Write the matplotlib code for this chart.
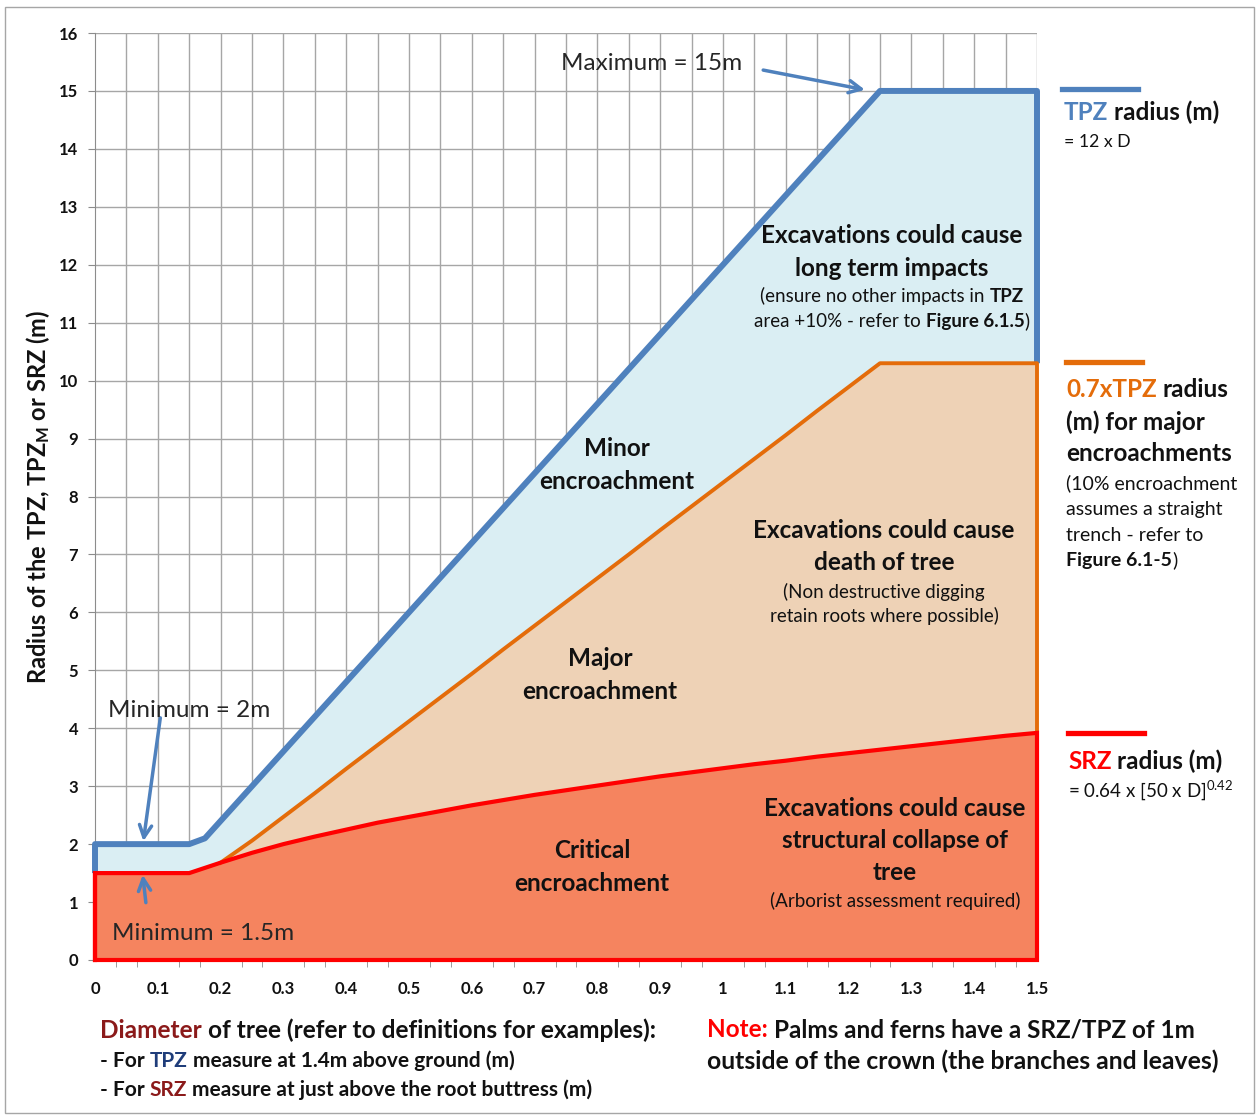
import numpy as np
import matplotlib
matplotlib.use("Agg")
import matplotlib.pyplot as plt
from matplotlib.transforms import Affine2D
from matplotlib.patches import Rectangle

# ---------------- data ----------------
diameter = [0.0, 0.05, 0.10, 0.15, 0.175, 0.20, 0.25, 0.30, 0.35, 0.40, 0.45,
            0.50, 0.55, 0.60, 0.65, 0.70, 0.75, 0.80, 0.85, 0.90, 0.95, 1.00,
            1.05, 1.10, 1.15, 1.20, 1.25, 1.30, 1.35, 1.40, 1.45, 1.50]
tpz = [2.0, 2.0, 2.0, 2.0, 2.1, 2.4, 3.0, 3.6, 4.2, 4.8, 5.4,
       6.0, 6.6, 7.2, 7.8, 8.4, 9.0, 9.6, 10.2, 10.8, 11.4, 12.0,
       12.6, 13.2, 13.8, 14.4, 15.0, 15.0, 15.0, 15.0, 15.0, 15.0]
tpz_major = [np.nan, np.nan, np.nan, np.nan, np.nan, 1.68, 2.06, 2.47, 2.88, 3.30, 3.71,
             4.12, 4.53, 4.94, 5.36, 5.77, 6.18, 6.59, 7.00, 7.42, 7.83, 8.24,
             8.65, 9.06, 9.48, 9.89, 10.3, 10.3, 10.3, 10.3, 10.3, 10.3]
srz = [1.5, 1.5, 1.5, 1.5, 1.59, 1.68, 1.85, 2.00, 2.13, 2.25, 2.37,
       2.47, 2.57, 2.67, 2.76, 2.85, 2.93, 3.01, 3.09, 3.17, 3.24, 3.31,
       3.38, 3.44, 3.51, 3.57, 3.63, 3.69, 3.75, 3.81, 3.87, 3.92]
x_tick_values = [0, 0.1, 0.2, 0.3, 0.4, 0.5, 0.6, 0.7, 0.8, 0.9, 1.0, 1.1, 1.2, 1.3, 1.4, 1.5]
x_tick_labels = ["0", "0.1", "0.2", "0.3", "0.4", "0.5", "0.6", "0.7", "0.8", "0.9",
                 "1", "1.1", "1.2", "1.3", "1.4", "1.5"]
y_tick_values = list(range(0, 17))

# ---------------- style ----------------
FONT = "Lato"
plt.rcParams["font.family"] = [FONT, "DejaVu Sans"]
plt.rcParams["mathtext.fontset"] = "custom"
plt.rcParams["mathtext.rm"] = FONT
plt.rcParams["mathtext.it"] = FONT + ":italic"
plt.rcParams["mathtext.bf"] = FONT + ":bold"

BLUE = "#4F81BD"
BLUE_FILL = "#DAEEF3"
ORANGE = "#E46C0A"
ORANGE_FILL = "#EED2B6"
RED = "#FF0000"
RED_FILL = "#F5845F"
DARKRED = "#8B1A1A"
NAVY = "#1F3D7A"
GRID = "#A6A6A6"
TXT = "#111111"

W, H = 1259, 1118
fig = plt.figure(figsize=(W / 100, H / 100), dpi=100)
pix = Affine2D().scale(1, -1).translate(0, H)  # pixel coords, origin top-left

ax = fig.add_axes([95 / W, 1 - 960 / H, (1037 - 95) / W, (960 - 33) / H])

D = np.array(diameter)
T = np.array(tpz)
M = np.array(tpz_major)
S = np.array(srz)
valid = ~np.isnan(M)

ax.set_xlim(0, 1.5)
ax.set_ylim(0, 16)
ax.set_axisbelow(True)

# grid
for gx in np.arange(0.05, 1.5001, 0.05):
    ax.axvline(gx, color=GRID, lw=1.0, zorder=0.5)
ax.yaxis.grid(True, color=GRID, lw=1.0)

# fills
ax.fill_between(D, S, T, color=BLUE_FILL, lw=0, zorder=2)
ax.fill_between(D[valid], S[valid], M[valid], color=ORANGE_FILL, lw=0, zorder=2.1)
ax.fill_between(D, 0, S, color=RED_FILL, lw=0, zorder=2.2)

# outlines
ax.plot(np.r_[D[0], D, D[-1]], np.r_[S[0], T, M[valid][-1]], color=BLUE, lw=4.3,
        clip_on=False, zorder=3, solid_joinstyle="round", solid_capstyle="butt")
ax.plot(np.r_[D[valid], D[-1]], np.r_[M[valid], S[-1]], color=ORANGE, lw=2.8,
        clip_on=False, zorder=3.1, solid_joinstyle="round")
ax.plot(np.r_[D[0], D, D[-1], D[0], D[0]], np.r_[0, S, 0, 0, S[0]], color=RED, lw=3.0,
        clip_on=False, zorder=3.2, solid_joinstyle="miter")

# axes
for s in ["top", "right"]:
    ax.spines[s].set_visible(False)
for s in ["left", "bottom"]:
    ax.spines[s].set_color("#8C8C8C")
ax.set_yticks(y_tick_values)
ax.set_yticklabels([str(v) for v in y_tick_values], fontsize=12, fontweight="bold", color=TXT)
ax.set_xticks(x_tick_values)
ax.set_xticklabels(x_tick_labels, fontsize=12, fontweight="bold", color=TXT)
ax.set_xticks(np.arange(0, 1.5001, 1 / 30), minor=True)
ax.tick_params(axis="y", length=5, color="#8C8C8C", pad=7)
ax.tick_params(axis="x", which="major", length=0, pad=15)
ax.tick_params(axis="x", which="minor", length=5, color="#8C8C8C")

# outer chart border
fig.patches.append(Rectangle((5, 7), 1249, 1106, transform=pix, fill=False,
                             edgecolor="#A6A6A6", lw=1.0))

renderer = fig.canvas.get_renderer()


def measure(s, size, weight):
    t = fig.text(0, 0, s, fontsize=size, fontweight=weight)
    w = t.get_window_extent(renderer).width
    t.remove()
    return w


def rich(x, y, parts, size, weight="bold", ha="left"):
    """parts: list of (text, color, weight or None, space_before)."""
    items = []
    total = 0.0
    for i, (s, c, wgt, sp) in enumerate(parts):
        wgt = wgt or weight
        gap = 0.0
        if i > 0 and sp:
            gap = measure("a a", size, wgt) - measure("aa", size, wgt)
        t = fig.text(0, 0, s, transform=pix, fontsize=size, fontweight=wgt, color=c,
                     va="baseline", ha="left")
        w = t.get_window_extent(renderer).width
        items.append((t, gap, w))
        total += gap + w
    cx = x if ha == "left" else x - total / 2
    for t, gap, w in items:
        cx += gap
        t.set_position((cx, y))
        cx += w


def line(x, y, s, size, weight="bold", ha="center", color=TXT):
    fig.text(x, y, s, transform=pix, fontsize=size, fontweight=weight, color=color,
             ha=ha, va="baseline")


# region labels
HS = 17.5
SS = 13.5
line(892, 243, "Excavations could cause", HS)
line(892, 276, "long term impacts", HS)
rich(892, 302, [("(ensure no other impacts in", TXT, "normal", False), ("TPZ", TXT, "bold", True)], SS, ha="center")
rich(892, 327, [("area +10% - refer to", TXT, "normal", False), ("Figure 6.1.5", TXT, "bold", True),
                (")", TXT, "normal", False)], SS, ha="center")

line(884, 538, "Excavations could cause", HS)
line(884, 570, "death of tree", HS)
line(884, 598, "(Non destructive digging", SS, weight="normal")
line(884, 622, "retain roots where possible)", SS, weight="normal")

line(895, 816, "Excavations could cause", HS)
line(895, 848, "structural collapse of", HS)
line(895, 880, "tree", HS)
line(895, 907, "(Arborist assessment required)", SS, weight="normal")

line(617, 456, "Minor", HS)
line(617, 489, "encroachment", HS)
line(600, 666, "Major", HS)
line(600, 699, "encroachment", HS)
line(592, 858, "Critical", HS)
line(592, 891, "encroachment", HS)

# min / max annotations
fig.text(652, 70, "Maximum = 15m", transform=pix, fontsize=17.5, color="#262626", ha="center", va="baseline")
fig.text(108, 717, "Minimum = 2m", transform=pix, fontsize=17.5, color="#262626", ha="left", va="baseline")
fig.text(112, 940, "Minimum = 1.5m", transform=pix, fontsize=17.5, color="#262626", ha="left", va="baseline")

arrow = dict(arrowstyle="->", color=BLUE, lw=2.5, mutation_scale=22, shrinkA=0, shrinkB=0)
ax.annotate("", xy=(1.226, 15.02), xytext=(1.064, 15.36), arrowprops=arrow, annotation_clip=False)
ax.annotate("", xy=(0.077, 2.05), xytext=(0.104, 4.18), arrowprops=arrow, annotation_clip=False)
ax.annotate("", xy=(0.076, 1.47), xytext=(0.081, 0.99), arrowprops=arrow, annotation_clip=False)

# right-hand legend
LS = 17.5
LSS = 14.0
fig.lines.append(plt.Line2D([1062, 1138], [89, 89], transform=pix, color=BLUE, lw=3.8))
rich(1064, 120, [("TPZ", BLUE, None, False), ("radius (m)", TXT, None, True)], LS)
line(1064, 147, "= 12 x D", 12.7, weight="normal", ha="left")

fig.lines.append(plt.Line2D([1066, 1142], [362, 362], transform=pix, color=ORANGE, lw=3.8))
rich(1066, 397, [("0.7xTPZ", ORANGE, None, False), ("radius", TXT, None, True)], LS)
line(1066, 430, "(m) for major", LS, ha="left")
line(1066, 461, "encroachments", LS, ha="left")
line(1066, 489, "(10% encroachment", LSS, weight="normal", ha="left")
line(1066, 515, "assumes a straight", LSS, weight="normal", ha="left")
line(1066, 541, "trench - refer to", LSS, weight="normal", ha="left")
rich(1066, 566, [("Figure 6.1-5", TXT, "bold", False), (")", TXT, "normal", False)], LSS)

fig.lines.append(plt.Line2D([1068, 1144], [733, 733], transform=pix, color=RED, lw=3.8))
rich(1068, 769, [("SRZ", RED, None, False), ("radius (m)", TXT, None, True)], LS)
line(1068, 797, r"= 0.64 x [50 x D]$^{0.42}$", 13.5, weight="normal", ha="left")

# y-axis label
fig.text(38, 497, r"Radius of the TPZ, TPZ$_{\mathbf{M}}$ or SRZ (m)", transform=pix, rotation=90,
         fontsize=17, fontweight="bold", color=TXT, ha="center", va="center")

# bottom notes
rich(100, 1038, [("Diameter", DARKRED, None, False),
                 ("of tree (refer to definitions for examples):", TXT, None, True)], 17.6, weight="bold")
rich(100, 1067, [("- For", TXT, None, False), ("TPZ", NAVY, None, True),
                 ("measure at 1.4m above ground (m)", TXT, None, True)], 15.0, weight="bold")
rich(100, 1096, [("- For", TXT, None, False), ("SRZ", DARKRED, None, True),
                 ("measure at just above the root buttress (m)", TXT, None, True)], 15.0, weight="bold")
rich(707, 1037, [("Note:", RED, None, False),
                 ("Palms and ferns have a SRZ/TPZ of 1m", TXT, None, True)], 17.5, weight="bold")
line(707, 1069, "outside of the crown (the branches and leaves)", 17.8, ha="left")

fig.savefig("out.png", dpi=100)
